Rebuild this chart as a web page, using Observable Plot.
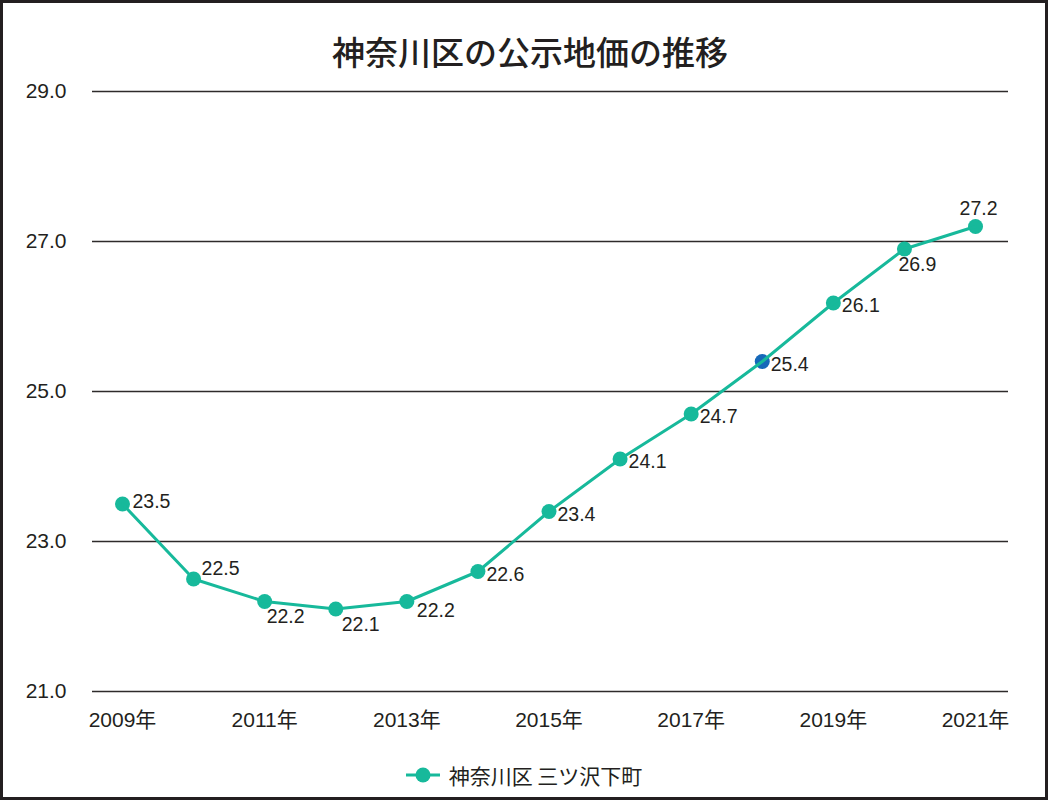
<!DOCTYPE html>
<html><head><meta charset="utf-8">
<script src="https://cdn.jsdelivr.net/npm/d3@7"></script>
<script src="https://cdn.jsdelivr.net/npm/@observablehq/plot@0.6"></script>
<style>
body{margin:0;background:#fff;}
#frame{width:1048px;height:800px;box-sizing:border-box;border:3px solid #231f20;position:relative;overflow:hidden;font-family:"Liberation Sans","Noto Sans CJK JP",sans-serif;color:#231f20;background:#fff;}
#title{height:72px;box-sizing:border-box;padding-top:32px;line-height:33px;font-size:33px;text-align:center;font-family:"Noto Sans CJK JP",sans-serif;font-weight:500;padding-left:12px;white-space:nowrap;}
#chart svg{display:block;}
#legend{height:52px;box-sizing:border-box;padding-top:8px;display:flex;justify-content:center;align-items:center;}
#legend .item{display:flex;align-items:center;height:24px;font-family:"Noto Sans CJK JP",sans-serif;font-size:21px;line-height:24px;}
#legend svg{margin-right:9px;}
#legend .gap{display:inline-block;width:10px;}
</style>
</head><body>
<div id="frame">
  <div id="title"></div>
  <div id="chart"></div>
  <div id="legend"></div>
</div>
<script>
// ---- data ----
const titleText = "神奈川区の公示地価の推移";
const seriesName = "神奈川区 三ツ沢下町";
const years = [2009, 2010, 2011, 2012, 2013, 2014, 2015, 2016, 2017, 2018, 2019, 2020, 2021];
const values = [23.5, 22.5, 22.2, 22.1, 22.2, 22.6, 23.4, 24.1, 24.7, 25.4, 26.18, 26.9, 27.2];
const highlightYear = 2018;
const yTicks = [21, 23, 25, 27, 29];
const xTicks = [2009, 2011, 2013, 2015, 2017, 2019, 2021];
// label placement codes per point
const labelPlacement = ["r0", "ur", "b", "b2", "br", "r", "r", "r", "r", "r", "r", "bl", "u"];

// ---- styles ----
const teal = "#17b99b";
const blue = "#1668b9";
const ink = "#231f20";
const placements = {
  r0: {dx: 10, dy: -2, textAnchor: "start"},
  ur: {dx: 8, dy: -10, textAnchor: "start"},
  b: {dx: 2, dy: 15.5, textAnchor: "start"},
  b2: {dx: 6, dy: 16, textAnchor: "start"},
  br: {dx: 10, dy: 9, textAnchor: "start"},
  r: {dx: 8.5, dy: 3, textAnchor: "start"},
  bl: {dx: -6, dy: 16, textAnchor: "start"},
  u: {dx: 3, dy: -18, textAnchor: "middle"}
};

// labels show the value truncated to one decimal
const fmt = v => (Math.floor(v * 10 + 1e-9) / 10).toFixed(1);

const data = years.map((year, i) => ({year, value: values[i], place: labelPlacement[i]}));

document.getElementById("title").textContent = titleText;

const labelMarks = Object.entries(placements).map(([key, p]) =>
  Plot.text(data.filter(d => d.place === key), {
    x: "year", y: "value", text: d => fmt(d.value),
    dx: p.dx, dy: p.dy, textAnchor: p.textAnchor,
    fontSize: 19.5, fill: ink
  })
);

const chart = Plot.plot({
  width: 1042,
  height: 670,
  marginLeft: 89,
  marginRight: 37,
  marginTop: 16,
  marginBottom: 54,
  style: {fontFamily: "'Liberation Sans','Noto Sans CJK JP',sans-serif", fontSize: "21px", color: ink, background: "transparent"},
  x: {type: "linear", domain: [2008.578, 2021.464]},
  y: {domain: [21, 29]},
  marks: [
    Plot.ruleY(yTicks, {stroke: "#2e2b2b", strokeWidth: 1.5}),
    Plot.axisY({ticks: yTicks, tickFormat: d3.format(".1f"), tickSize: 0, tickPadding: 26, fontSize: 21, label: null}),
    Plot.axisX({ticks: xTicks, tickFormat: d => d + "年", tickSize: 0, tickPadding: 21, fontSize: 21, label: null}),
    Plot.dot(data, {x: "year", y: "value", r: 7.5, fill: d => d.year === highlightYear ? blue : teal, stroke: "none"}),
    Plot.line(data, {x: "year", y: "value", stroke: teal, strokeWidth: 3}),
    ...labelMarks
  ]
});
document.getElementById("chart").appendChild(chart);

// legend
const legend = document.getElementById("legend");
const item = document.createElement("div");
item.className = "item";
item.innerHTML = `<svg width="34" height="20" viewBox="0 0 34 20"><line x1="0" y1="10" x2="34" y2="10" stroke="${teal}" stroke-width="3"/><circle cx="17" cy="10" r="7.5" fill="${teal}"/></svg><span></span>`;
item.querySelector("span").textContent = seriesName;
legend.appendChild(item);
</script>
</body></html>
